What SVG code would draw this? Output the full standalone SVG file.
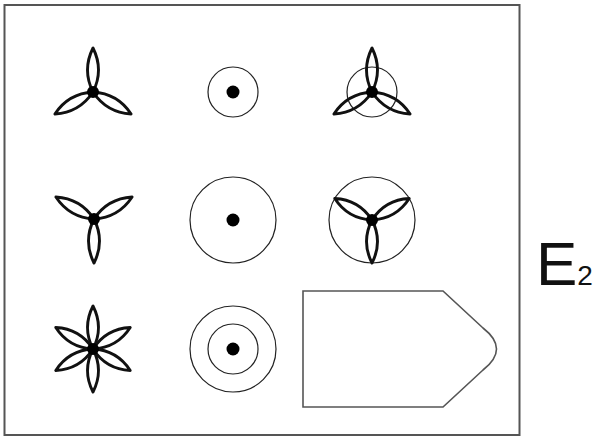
<svg xmlns="http://www.w3.org/2000/svg" width="602" height="439" viewBox="0 0 602 439">
<style>
.frame{fill:#fff;stroke:#555;stroke-width:2}
.petal{fill:none;stroke:#111;stroke-width:2.9;stroke-linejoin:round}
.ring{fill:none;stroke:#222;stroke-width:1.2}
.dot{fill:#000}
.shape{fill:none;stroke:#555;stroke-width:1.6}
.lbl{font-family:"Liberation Sans",Arial,sans-serif;fill:#111}
</style>
<defs>
<path id="p44" class="petal" d="M0,0 Q11,-22 0,-44 Q-11,-22 0,0Z"/>
<path id="p43" class="petal" d="M0,0 Q11,-21.5 0,-43 Q-11,-21.5 0,0Z"/>
</defs>
<rect class="frame" x="4.5" y="5" width="515" height="430"/>
<g id="prop-up">
<use href="#p44" transform="translate(93,92)"/>
<use href="#p44" transform="translate(93,92) rotate(120)"/>
<use href="#p44" transform="translate(93,92) rotate(240)"/>
<circle class="dot" cx="93" cy="92" r="6"/>
</g>
<g id="circle-small">
<circle class="ring" cx="233" cy="92" r="25"/>
<circle class="dot" cx="233" cy="92" r="6.5"/>
</g>
<g id="prop-up-circle">
<circle class="ring" cx="372" cy="92" r="25"/>
<use href="#p44" transform="translate(372,92)"/>
<use href="#p44" transform="translate(372,92) rotate(120)"/>
<use href="#p44" transform="translate(372,92) rotate(240)"/>
<circle class="dot" cx="372" cy="92" r="6"/>
</g>
<g id="prop-down">
<use href="#p44" transform="translate(94,219) rotate(60)"/>
<use href="#p44" transform="translate(94,219) rotate(180)"/>
<use href="#p44" transform="translate(94,219) rotate(300)"/>
<circle class="dot" cx="94" cy="219" r="6"/>
</g>
<g id="circle-large">
<circle class="ring" cx="233" cy="220" r="43"/>
<circle class="dot" cx="233" cy="220" r="6.5"/>
</g>
<g id="prop-down-circle">
<circle class="ring" cx="372" cy="220" r="43"/>
<use href="#p43" transform="translate(372,220) rotate(60)"/>
<use href="#p43" transform="translate(372,220) rotate(180)"/>
<use href="#p43" transform="translate(372,220) rotate(300)"/>
<circle class="dot" cx="372" cy="220" r="6"/>
</g>
<g id="flower">
<use href="#p43" transform="translate(93,349)"/>
<use href="#p43" transform="translate(93,349) rotate(60)"/>
<use href="#p43" transform="translate(93,349) rotate(120)"/>
<use href="#p43" transform="translate(93,349) rotate(180)"/>
<use href="#p43" transform="translate(93,349) rotate(240)"/>
<use href="#p43" transform="translate(93,349) rotate(300)"/>
<circle class="dot" cx="93" cy="349" r="6"/>
</g>
<g id="circle-double">
<circle class="ring" cx="233" cy="349" r="43"/>
<circle class="ring" cx="233" cy="349" r="25"/>
<circle class="dot" cx="233" cy="349" r="6.5"/>
</g>
<g id="pentagon">
<path class="shape" d="M303,291 H443 L483,328 Q510,349 483,370 L443,407 H303 Z"/>
</g>
<g id="connectors"/>
<text class="lbl" x="536" y="285" font-size="62">E<tspan font-size="28">2</tspan></text>
</svg>
